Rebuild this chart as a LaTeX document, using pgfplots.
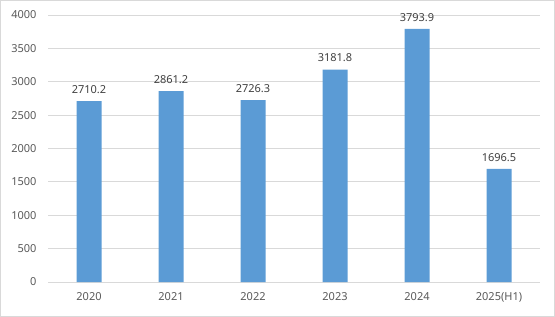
\documentclass[border=0pt]{standalone}
\usepackage{pgfplots}
\pgfplotsset{compat=1.18}
\usepackage{fontspec}
\setmainfont{Noto Sans}
\definecolor{barblue}{HTML}{5B9BD5}
\definecolor{gridgray}{HTML}{D9D9D9}
\definecolor{txtgray}{HTML}{595959}
\definecolor{lblgray}{HTML}{404040}
\begin{document}
\begin{tikzpicture}
\path[use as bounding box] (0,0) rectangle (555bp,317bp);
\draw[gridgray, line width=1bp] (0.5bp,0.5bp) rectangle (554.5bp,316.5bp);
\begin{axis}[
  at={(48bp,35bp)}, anchor=south west,
  scale only axis, width=492bp, height=267bp,
  ybar, bar width=25bp,
  xmin=-0.5, xmax=5.5, ymin=0, ymax=4000,
  ytick={0,500,...,4000},
  xtick=data,
  xticklabels={2020,2021,2022,2023,2024,2025(H1)},
  axis line style={draw=none},
  axis x line*=bottom,
  x axis line style={draw=gridgray, line width=0.8bp},
  ymajorgrids, grid style={gridgray, line width=0.8bp},
  major tick length=0pt,
  tick label style={font=\fontsize{11bp}{13bp}\selectfont, text=txtgray},
  /pgf/number format/assume math mode=true,
  /pgf/number format/1000 sep={},
  yticklabel style={xshift=-8bp},
  xticklabel style={yshift=-7bp},
  nodes near coords,
  nodes near coords style={font=\fontsize{11bp}{13bp}\selectfont, text=lblgray, yshift=4bp,
    /pgf/number format/fixed, /pgf/number format/fixed zerofill, /pgf/number format/precision=1},
  clip=false,
]
\addplot[fill=barblue, draw=none] coordinates {(0,2710.2) (1,2861.2) (2,2726.3) (3,3181.8) (4,3793.9) (5,1696.5)};
\end{axis}
\end{tikzpicture}
\end{document}
